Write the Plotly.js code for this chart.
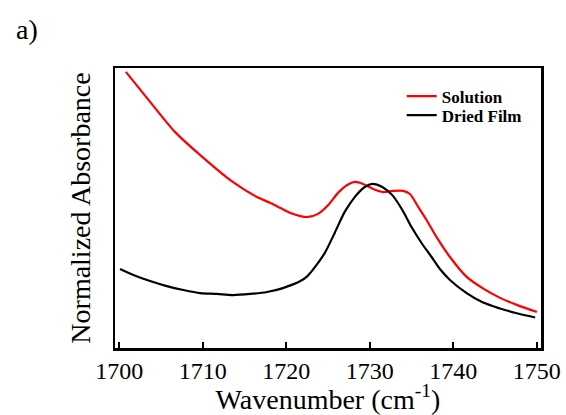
<!DOCTYPE html>
<html>
<head>
<meta charset="utf-8">
<script src="https://cdn.plot.ly/plotly-3.0.1.min.js"></script>
<style>html,body{margin:0;padding:0;background:#fff;}#chart{width:566px;height:415px;}</style>
</head>
<body>
<div id="chart"></div>
<script>
// Solution (red) spectrum
const solutionX = [1700.8,1703.7,1706.7,1709.7,1713.6,1716.5,1718.1,1719.3,1720.5,1721.7,1722.6,1723.8,1725.0,1726.2,1727.3,1728.2,1729.2,1730.4,1731.6,1732.8,1734.0,1734.8,1735.8,1736.8,1738.0,1739.6,1741.6,1743.5,1745.6,1747.6,1750.0];
const solutionY = [98.6,87.9,77.1,68.9,59.3,53.9,51.8,50.0,48.2,47.1,46.8,47.9,51.0,55.4,58.2,59.3,58.6,56.8,55.7,56.1,56.1,55.0,50.4,45.7,39.6,32.5,25.4,21.4,17.9,15.4,12.9];
// Dried film (black) spectrum
const filmX = [1700.1,1701.7,1703.7,1705.7,1707.7,1709.7,1711.7,1713.6,1715.7,1717.7,1719.6,1721.7,1722.5,1723.2,1724.6,1725.8,1727.0,1728.2,1729.4,1730.3,1731.5,1732.7,1733.9,1735.0,1736.2,1737.4,1738.4,1739.6,1741.6,1743.5,1745.6,1747.6,1749.8];
const filmY = [28.2,26.1,23.9,22.1,20.7,19.6,19.3,18.9,19.3,20.0,21.4,23.9,25.6,28.0,33.9,41.1,48.6,53.9,57.5,58.6,57.5,54.6,49.3,43.2,37.5,32.5,28.2,24.3,19.6,16.3,14.1,12.4,10.9];
const xTicks = [1700,1710,1720,1730,1740,1750];
const seriesNames = ['Solution','Dried Film'];

const serif = '"Liberation Serif", "Times New Roman", serif';

const traces = [
  {x: solutionX, y: solutionY, name: seriesNames[0], type: 'scatter', mode: 'lines', legend: 'legend',
   line: {color: '#ff0000', width: 2.2, shape: 'spline', smoothing: 0.8}},
  {x: filmX, y: filmY, name: seriesNames[1], type: 'scatter', mode: 'lines', legend: 'legend2',
   line: {color: '#000000', width: 2.2, shape: 'spline', smoothing: 0.8}}
];

const legendFont = {family: serif, size: 17, weight: 'bold', color: '#000'};

const layout = {
  width: 566, height: 415,
  margin: {l: 115, r: 25, t: 68, b: 67},
  paper_bgcolor: '#fff', plot_bgcolor: '#fff',
  showlegend: true,
  legend: {x: 0.673, y: 0.898, xanchor: 'left', yanchor: 'middle',
           bgcolor: 'rgba(0,0,0,0)', font: legendFont},
  legend2: {x: 0.673, y: 0.830, xanchor: 'left', yanchor: 'middle',
           bgcolor: 'rgba(0,0,0,0)', font: legendFont},
  xaxis: {
    range: [1699.5, 1750.5], tickvals: xTicks, ticktext: xTicks.map(String),
    ticks: 'inside', ticklen: 6, tickwidth: 2, tickcolor: '#000',
    showline: true, linecolor: '#000', linewidth: 2.5, mirror: true,
    showgrid: false, zeroline: false,
    tickfont: {family: serif, size: 24, color: '#000'},
    title: {text: 'Wavenumber (cm<sup>-1</sup>)', font: {family: serif, size: 28, color: '#000'}, standoff: 0}
  },
  yaxis: {
    range: [0, 100], showticklabels: false, ticks: '',
    showline: true, linecolor: '#000', linewidth: 2.5, mirror: true,
    showgrid: false, zeroline: false,
    title: {text: 'Normalized Absorbance', font: {family: serif, size: 28, color: '#000'}, standoff: 14}
  },
  annotations: [
    {text: 'a)', xref: 'paper', yref: 'paper', x: -0.237, y: 1.136, xanchor: 'left', yanchor: 'middle',
     showarrow: false, font: {family: serif, size: 28, color: '#000'}}
  ]
};

Plotly.newPlot('chart', traces, layout, {displayModeBar: false, staticPlot: true});
</script>
</body>
</html>
